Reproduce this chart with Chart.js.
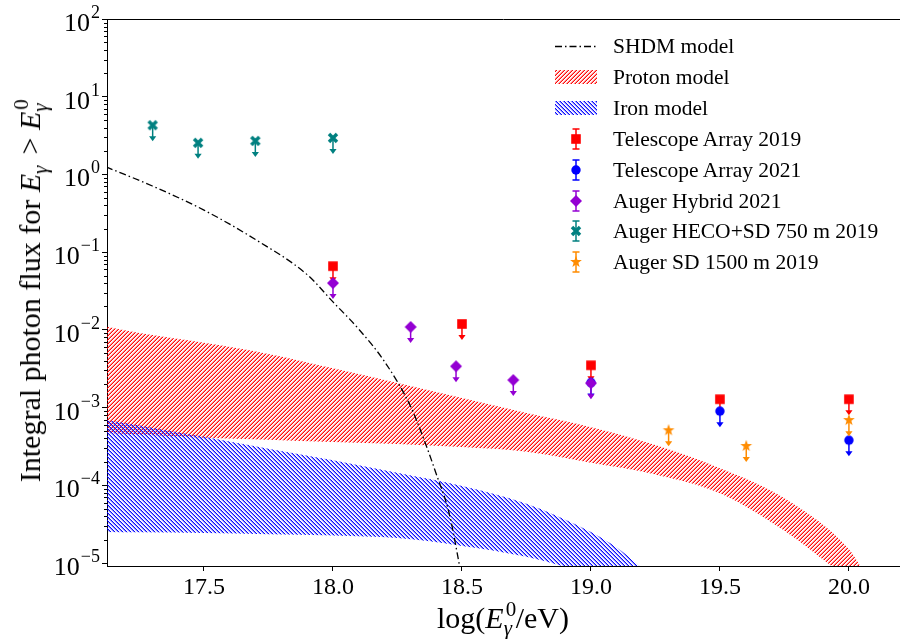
<!DOCTYPE html>
<html>
<head>
<meta charset="utf-8">
<script src="https://cdn.jsdelivr.net/npm/chart.js@4.4.1/dist/chart.umd.min.js"></script>
<style>
  html, body { margin: 0; padding: 0; background: #fff; }
  #wrap { position: relative; width: 900px; height: 639px; overflow: hidden;
          font-family: 'Liberation Serif', 'DejaVu Serif', serif; color: #000; }
  #chart { position: absolute; left: 0; top: 0; }
  .legend-row { position: absolute; left: 553px; height: 22px; display: flex; align-items: center;
                white-space: nowrap; font-size: 21.5px; line-height: 22px; }
  .legend-row canvas { width: 46px; height: 22px; margin-right: 14px; }
  #xtitle { position: absolute; left: 503px; top: 603px; transform: translateX(-50%);
            font-size: 30px; line-height: 30px; white-space: nowrap; }
  #ytitle { position: absolute; left: 30px; top: 291px; transform: translate(-50%, -50%) rotate(-90deg);
            font-size: 30px; line-height: 30px; white-space: nowrap; }
  .ss { display: inline-block; position: relative; width: 12px; height: 0; }
  .ss .sup { position: absolute; left: 2px; bottom: 8px; font-size: 21px; line-height: 21px; }
  .ss .sub { position: absolute; left: 0; top: -10px; font-size: 21px; line-height: 21px; font-style: italic; }
</style>
</head>
<body>
<div id="wrap">
  <canvas id="chart" width="900" height="639"></canvas>
  <div id="legend"></div>
  <div id="xtitle">log(<i>E</i><span class="ss"><span class="sup">0</span><span class="sub">γ</span></span>/eV)</div>
  <div id="ytitle">Integral photon flux for <i>E</i><span class="ss"><span class="sub">γ</span></span> &gt; <i>E</i><span class="ss"><span class="sup">0</span><span class="sub">γ</span></span></div>
</div>
<script>
// ---- data (log10 of threshold energy in eV, integral flux) ----
const xTicks = [17.5, 18.0, 18.5, 19.0, 19.5, 20.0];
const yTicks = [1e-5, 1e-4, 1e-3, 1e-2, 1e-1, 1, 10, 100];

const shdmX = [17.12, 17.3, 17.5, 17.7, 17.9, 18.0, 18.1, 18.2, 18.3, 18.35, 18.4, 18.45, 18.5];
const shdmFlux = [1.25, 0.71, 0.347, 0.145, 0.0513, 0.0229, 0.0102, 3.9e-3, 1.05e-3, 4.1e-4, 1.41e-4, 4.4e-5, 6.3e-6];

const protonX = [17.12, 17.25, 17.5, 17.75, 18.0, 18.25, 18.5, 18.75, 19.0, 19.25, 19.5, 19.75, 20.0, 20.05];
const protonHigh = [1.1e-2, 9.1e-3, 6.8e-3, 4.9e-3, 3.2e-3, 2.07e-3, 1.33e-3, 8.5e-4, 5.6e-4, 3.3e-4, 1.66e-4, 6.8e-5, 1.5e-5, 8.5e-6];
const protonLow = [4.7e-4, 4.5e-4, 4.1e-4, 3.85e-4, 3.6e-4, 3.4e-4, 3.1e-4, 2.7e-4, 1.95e-4, 1.38e-4, 7.9e-5, 2.6e-5, 6.3e-6, 5e-6];

const ironX = [17.12, 17.25, 17.5, 17.75, 18.0, 18.25, 18.5, 18.75, 19.0, 19.1, 19.2];
const ironHigh = [6.9e-4, 5.9e-4, 4.2e-4, 2.95e-4, 2.1e-4, 1.45e-4, 9.8e-5, 5.8e-5, 2.5e-5, 1.58e-5, 8.5e-6];
const ironLow = [2.5e-5, 2.48e-5, 2.43e-5, 2.35e-5, 2.26e-5, 2.09e-5, 1.66e-5, 1.2e-5, 7.1e-6, 5.5e-6, 4.5e-6];

const ta2019X = [18.0, 18.5, 19.0, 19.5, 20.0];
const ta2019Flux = [0.066, 0.0119, 0.0035, 0.00128, 0.00128];
const ta2021X = [19.0, 19.5, 20.0];
const ta2021Flux = [0.0021, 0.0009, 0.00038];
const hybridX = [18.0, 18.301, 18.477, 18.699, 19.0];
const hybridFlux = [0.040, 0.0109, 0.0034, 0.00226, 0.00206];
const hecoX = [17.301, 17.477, 17.699, 18.0];
const hecoFlux = [4.3, 2.55, 2.7, 2.95];
const sd1500X = [19.301, 19.602, 20.0];
const sd1500Flux = [5.1e-4, 3.2e-4, 6.9e-4];

const X_MIN = 17.124, X_MAX = 20.198;
const Y_MIN = 9.15e-6, Y_MAX = 100;
const ARROW_RATIO = 0.7; // lower end of the upper-limit arrows

const zip = (xs, ys) => xs.map((x, i) => ({ x, y: ys[i] }));

Chart.defaults.font.family = "'Liberation Serif', 'DejaVu Serif', serif";
Chart.defaults.color = '#000';

// hatch tiles like matplotlib '////' and '\\\\' (thin diagonals 4px apart)
function hatchTile(rgb, forward) {
  const s = 4;
  const c = document.createElement('canvas');
  c.width = s; c.height = s;
  const g = c.getContext('2d');
  const img = g.createImageData(s, s);
  const alpha = [0, 25, 120, 245];
  for (let yy = 0; yy < s; yy++) {
    for (let xx = 0; xx < s; xx++) {
      const phase = forward ? (xx + yy) % s : (xx - yy + s) % s;
      const k = (yy * s + xx) * 4;
      img.data[k] = rgb[0]; img.data[k + 1] = rgb[1]; img.data[k + 2] = rgb[2];
      img.data[k + 3] = alpha[phase];
    }
  }
  g.putImageData(img, 0, 0);
  return c;
}

function drawMarker(ctx, kind, cx, cy, color) {
  ctx.save();
  ctx.fillStyle = color;
  ctx.strokeStyle = color;
  ctx.beginPath();
  if (kind === 'square') {
    ctx.rect(cx - 4.8, cy - 4.8, 9.6, 9.6);
    ctx.fill();
  } else if (kind === 'circle') {
    ctx.arc(cx, cy, 4.7, 0, Math.PI * 2);
    ctx.fill();
  } else if (kind === 'diamond') {
    ctx.moveTo(cx, cy - 6); ctx.lineTo(cx + 6, cy); ctx.lineTo(cx, cy + 6); ctx.lineTo(cx - 6, cy);
    ctx.closePath();
    ctx.fill();
  } else if (kind === 'xfill') {
    ctx.lineWidth = 3.5;
    ctx.moveTo(cx - 4, cy - 4); ctx.lineTo(cx + 4, cy + 4);
    ctx.moveTo(cx + 4, cy - 4); ctx.lineTo(cx - 4, cy + 4);
    ctx.stroke();
  } else if (kind === 'star') {
    const ro = 6.2, ri = 2.5;
    for (let i = 0; i < 10; i++) {
      const r = i % 2 ? ri : ro;
      const a = -Math.PI / 2 + i * Math.PI / 5;
      const px = cx + r * Math.cos(a), py = cy + r * Math.sin(a);
      if (i) ctx.lineTo(px, py); else ctx.moveTo(px, py);
    }
    ctx.closePath();
    ctx.fill();
  }
  ctx.restore();
}

function markerImage(kind, color) {
  const c = document.createElement('canvas');
  c.width = 16; c.height = 16;
  drawMarker(c.getContext('2d'), kind, 8, 8, color);
  return c;
}

const ctx = document.getElementById('chart').getContext('2d');
const redTile = hatchTile([255, 0, 0], true);
const blueTile = hatchTile([0, 0, 255], false);
const redHatch = ctx.createPattern(redTile, 'repeat');
const blueHatch = ctx.createPattern(blueTile, 'repeat');

const series = [
  { label: 'Telescope Array 2019', xs: ta2019X, ys: ta2019Flux, kind: 'square', color: '#ff0000' },
  { label: 'Telescope Array 2021', xs: ta2021X, ys: ta2021Flux, kind: 'circle', color: '#0000ff' },
  { label: 'Auger Hybrid 2021', xs: hybridX, ys: hybridFlux, kind: 'diamond', color: '#9400d3' },
  { label: 'Auger HECO+SD 750 m 2019', xs: hecoX, ys: hecoFlux, kind: 'xfill', color: '#008080' },
  { label: 'Auger SD 1500 m 2019', xs: sd1500X, ys: sd1500Flux, kind: 'star', color: '#ff8c00' }
];

const bandLine = { borderColor: 'rgba(0,0,0,0)', borderWidth: 1, pointRadius: 0, cubicInterpolationMode: 'monotone' };

const datasets = [
  Object.assign({ label: 'Proton model', data: zip(protonX, protonHigh), fill: '+1', backgroundColor: redHatch, order: 40 }, bandLine),
  Object.assign({ label: '_proton_low', data: zip(protonX, protonLow), fill: false, backgroundColor: 'rgba(0,0,0,0)', order: 40 }, bandLine),
  Object.assign({ label: 'Iron model', data: zip(ironX, ironHigh), fill: '+1', backgroundColor: blueHatch, order: 39 }, bandLine),
  Object.assign({ label: '_iron_low', data: zip(ironX, ironLow), fill: false, backgroundColor: 'rgba(0,0,0,0)', order: 39 }, bandLine),
  {
    label: 'SHDM model', data: zip(shdmX, shdmFlux), fill: false,
    borderColor: '#000', backgroundColor: 'rgba(0,0,0,0)', borderWidth: 1.3, borderDash: [7, 3, 1.5, 3],
    pointRadius: 0, cubicInterpolationMode: 'monotone', order: 30
  }
];
series.forEach((s, i) => {
  datasets.push({
    label: s.label, data: zip(s.xs, s.ys), showLine: false, fill: false,
    borderColor: s.color, backgroundColor: s.color,
    pointStyle: markerImage(s.kind, s.color), pointRadius: 6,
    limitColor: s.color, order: 10 - i
  });
});

// upper-limit arrows under each marker, plus frame details and y labels
const decor = {
  id: 'decor',
  beforeDatasetDraw(chart, args) {
    const ds = chart.data.datasets[args.index];
    if (!ds.limitColor) return;
    const { ctx, scales: { x, y } } = chart;
    ctx.save();
    ctx.strokeStyle = ds.limitColor;
    ctx.fillStyle = ds.limitColor;
    ctx.lineWidth = 1.5;
    ds.data.forEach(p => {
      const px = x.getPixelForValue(p.x);
      const py = y.getPixelForValue(p.y);
      const pe = y.getPixelForValue(p.y * ARROW_RATIO);
      ctx.beginPath();
      ctx.moveTo(px, py);
      ctx.lineTo(px, pe);
      ctx.stroke();
      ctx.beginPath();
      ctx.moveTo(px - 3.6, pe - 1);
      ctx.lineTo(px + 3.6, pe - 1);
      ctx.lineTo(px, pe + 4);
      ctx.closePath();
      ctx.fill();
    });
    ctx.restore();
  },
  afterDraw(chart) {
    const { ctx, chartArea: a, scales: { y } } = chart;
    ctx.save();
    ctx.strokeStyle = '#000';
    ctx.lineWidth = 1;
    ctx.beginPath();
    ctx.moveTo(a.left, Math.round(a.top) + 0.5);
    ctx.lineTo(a.right, Math.round(a.top) + 0.5);
    ctx.stroke();
    // minor log ticks
    ctx.beginPath();
    for (let e = -6; e < 2; e++) {
      for (let k = 2; k <= 9; k++) {
        const v = k * Math.pow(10, e);
        if (v < Y_MIN || v > Y_MAX) continue;
        const py = Math.round(y.getPixelForValue(v)) + 0.5;
        ctx.moveTo(a.left - 3, py);
        ctx.lineTo(a.left, py);
      }
    }
    ctx.stroke();
    // tick labels 10^n
    ctx.fillStyle = '#000';
    ctx.textAlign = 'right';
    ctx.textBaseline = 'alphabetic';
    const right = 100;
    yTicks.forEach(v => {
      const e = Math.round(Math.log10(v));
      const py = y.getPixelForValue(v);
      const sup = e < 0 ? '\u2212' + (-e) : String(e);
      ctx.font = "18px 'Liberation Serif'";
      const sw = ctx.measureText(sup).width;
      ctx.fillText(sup, right, py - 1);
      ctx.font = "26px 'Liberation Serif'";
      ctx.fillText('10', right - sw - 1, py + 12);
    });
    ctx.restore();
  }
};

new Chart(ctx, {
  type: 'line',
  data: { datasets },
  options: {
    responsive: false,
    animation: false,
    events: [],
    layout: { padding: { top: 19, left: 0, right: 0, bottom: 0 }, autoPadding: false },
    scales: {
      x: {
        type: 'linear', min: X_MIN, max: X_MAX,
        afterBuildTicks: s => { s.ticks = xTicks.map(v => ({ value: v })); },
        afterFit: s => { s.height = 73; },
        grid: { drawOnChartArea: false, drawTicks: true, tickLength: 5, tickColor: '#000', tickWidth: 1 },
        border: { display: true, color: '#000', width: 1 },
        ticks: { color: '#000', font: { size: 24 }, padding: 2, maxRotation: 0, autoSkip: false,
                 callback: v => Number(v).toFixed(1) }
      },
      y: {
        type: 'logarithmic', min: Y_MIN, max: Y_MAX,
        afterBuildTicks: s => { s.ticks = yTicks.map(v => ({ value: v, major: true })); },
        afterFit: s => { s.width = 107; },
        grid: { drawOnChartArea: false, drawTicks: true, tickLength: 5, tickColor: '#000', tickWidth: 1 },
        border: { display: true, color: '#000', width: 1 },
        ticks: { display: false }
      }
    },
    plugins: {
      legend: { display: false },
      tooltip: { enabled: false }
    }
  },
  plugins: [decor]
});

// legend, in the same order as the reference
const legendEl = document.getElementById('legend');
const legendRows = [
  { label: 'SHDM model', icon: 'line' },
  { label: 'Proton model', icon: 'hatch', tile: redTile },
  { label: 'Iron model', icon: 'hatch', tile: blueTile }
].concat(series.map(s => ({ label: s.label, icon: 'marker', kind: s.kind, color: s.color })));

legendRows.forEach((item, i) => {
  const row = document.createElement('div');
  row.className = 'legend-row';
  row.style.top = (35 + i * 30.9) + 'px';
  const c = document.createElement('canvas');
  c.width = 46; c.height = 22;
  const g = c.getContext('2d');
  if (item.icon === 'line') {
    g.strokeStyle = '#000';
    g.lineWidth = 1.3;
    g.setLineDash([7, 3, 1.5, 3]);
    g.beginPath(); g.moveTo(2, 11.5); g.lineTo(44, 11.5); g.stroke();
  } else if (item.icon === 'hatch') {
    g.fillStyle = g.createPattern(item.tile, 'repeat');
    g.fillRect(2, 4, 42, 14);
  } else {
    g.strokeStyle = item.color;
    g.lineWidth = 1.5;
    g.beginPath();
    g.moveTo(23, 1); g.lineTo(23, 21);
    g.moveTo(19.5, 1); g.lineTo(26.5, 1);
    g.moveTo(19.5, 21); g.lineTo(26.5, 21);
    g.stroke();
    drawMarker(g, item.kind, 23, 11, item.color);
  }
  row.appendChild(c);
  const t = document.createElement('span');
  t.textContent = item.label;
  row.appendChild(t);
  legendEl.appendChild(row);
});
</script>
</body>
</html>
